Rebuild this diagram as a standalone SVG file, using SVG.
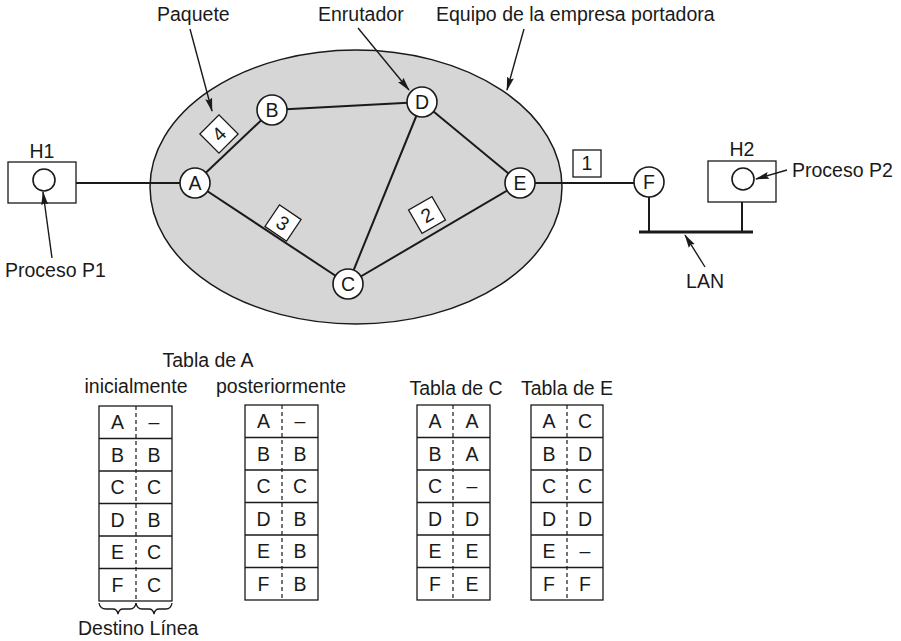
<svg xmlns="http://www.w3.org/2000/svg" width="901" height="641" viewBox="0 0 901 641">
<defs>
<style>
text{font-family:"Liberation Sans",Arial,sans-serif;font-size:19.5px;fill:#1a1a1a}
.c{text-anchor:middle}
.ln{stroke:#1a1a1a;stroke-width:2;fill:none}
.th{stroke:#1a1a1a;stroke-width:1.3;fill:none}
.node{fill:#fff;stroke:#1a1a1a;stroke-width:1.6}
.box{fill:#fff;stroke:#1a1a1a;stroke-width:1.3}
.dash{stroke:#1a1a1a;stroke-width:1.2;stroke-dasharray:4,3}
.arr{stroke:#1a1a1a;stroke-width:1.4;fill:none;marker-end:url(#ah)}
</style>
<marker id="ah" viewBox="0 0 14 8" refX="13" refY="4" markerWidth="14" markerHeight="8" markerUnits="userSpaceOnUse" orient="auto">
<path d="M0,0.5 L14,4 L0,7.5 L2,4 z" fill="#1a1a1a"/>
</marker>
</defs>
<rect width="901" height="641" fill="#fff"/>
<g id="carrier">
<ellipse cx="356" cy="187" rx="206" ry="137" fill="#d6d6d6" stroke="#1a1a1a" stroke-width="1.5"/>
</g>
<g id="H1">
<rect class="box" x="8" y="162" width="68" height="41"/>
<circle class="node" cx="44" cy="180" r="11" stroke-width="1.3"/>
<text class="c" x="42" y="158">H1</text>
</g>
<g id="H2">
<rect class="box" x="708" y="161" width="68" height="41"/>
<circle class="node" cx="743" cy="179" r="11" stroke-width="1.3"/>
<text class="c" x="742" y="156">H2</text>
</g>
<g id="connectors">
<line class="ln" x1="76" y1="183" x2="180" y2="183"/>
<line class="ln" x1="195" y1="183" x2="272" y2="110"/>
<line class="ln" x1="195" y1="183" x2="348" y2="284"/>
<line class="ln" x1="272" y1="110" x2="422" y2="102"/>
<line class="ln" x1="422" y1="102" x2="348" y2="284"/>
<line class="ln" x1="422" y1="102" x2="520" y2="183"/>
<line class="ln" x1="348" y1="284" x2="520" y2="183"/>
<line class="ln" x1="535" y1="183" x2="634" y2="183"/>
<line class="ln" x1="649" y1="197" x2="649" y2="232"/>
<line class="ln" x1="742" y1="202" x2="742" y2="232"/>
<line stroke="#1a1a1a" stroke-width="3" x1="639" y1="232" x2="753" y2="232"/>
<line class="arr" x1="190" y1="29" x2="212" y2="111"/>
<line class="arr" x1="358" y1="28" x2="409" y2="90"/>
<line class="arr" x1="524" y1="29" x2="507" y2="90"/>
<line class="arr" x1="52" y1="258" x2="43" y2="192"/>
<line class="arr" x1="787" y1="170" x2="756" y2="179"/>
<line class="arr" x1="705" y1="267" x2="685" y2="235"/>
</g>
<g id="nA"><circle class="node" cx="195" cy="183" r="15"/><text class="c" x="195" y="190">A</text></g>
<g id="nB"><circle class="node" cx="272" cy="110" r="15"/><text class="c" x="272" y="117">B</text></g>
<g id="nC"><circle class="node" cx="348" cy="284" r="15"/><text class="c" x="348" y="291">C</text></g>
<g id="nD"><circle class="node" cx="422" cy="102" r="15"/><text class="c" x="422" y="109">D</text></g>
<g id="nE"><circle class="node" cx="520" cy="183" r="15"/><text class="c" x="520" y="190">E</text></g>
<g id="nF"><circle class="node" cx="649" cy="182" r="15"/><text class="c" x="649" y="189">F</text></g>
<g id="p4" transform="translate(219,134) rotate(-45)">
<rect class="box" x="-13.5" y="-13.5" width="27" height="27"/><text class="c" x="0" y="7">4</text>
</g>
<g id="p3" transform="translate(283,223) rotate(34)">
<rect class="box" x="-13" y="-13" width="26" height="26"/><text class="c" x="0" y="7">3</text>
</g>
<g id="p2" transform="translate(427,215) rotate(-30)">
<rect class="box" x="-13.5" y="-13.5" width="27" height="27"/><text class="c" x="0" y="7">2</text>
</g>
<g id="p1">
<rect class="box" x="573" y="150" width="28" height="27"/><text class="c" x="587" y="170">1</text>
</g>
<g id="labels">
<text x="157" y="21">Paquete</text>
<text x="318" y="21">Enrutador</text>
<text x="436" y="21">Equipo de la empresa portadora</text>
<text x="5" y="277">Proceso P1</text>
<text x="792" y="177">Proceso P2</text>
<text class="c" x="705" y="288">LAN</text>
</g>
<g id="tableA1">
<text class="c" x="208" y="367">Tabla de A</text>
<text class="c" x="136" y="393">inicialmente</text>
<rect class="box" x="99" y="406" width="73" height="195"/>
<line class="th" x1="99" y1="438.5" x2="172" y2="438.5"/>
<line class="th" x1="99" y1="471" x2="172" y2="471"/>
<line class="th" x1="99" y1="503.5" x2="172" y2="503.5"/>
<line class="th" x1="99" y1="536" x2="172" y2="536"/>
<line class="th" x1="99" y1="568.5" x2="172" y2="568.5"/>
<line class="dash" x1="136" y1="406" x2="136" y2="601"/>
<text class="c" x="117.5" y="429">A</text><text class="c" x="154" y="429">–</text>
<text class="c" x="117.5" y="461.5">B</text><text class="c" x="154" y="461.5">B</text>
<text class="c" x="117.5" y="494">C</text><text class="c" x="154" y="494">C</text>
<text class="c" x="117.5" y="526.5">D</text><text class="c" x="154" y="526.5">B</text>
<text class="c" x="117.5" y="559">E</text><text class="c" x="154" y="559">C</text>
<text class="c" x="117.5" y="591.5">F</text><text class="c" x="154" y="591.5">C</text>
<path class="th" d="M99,603 Q100,609 106,609 L113,609 Q117,609 118,614 Q119,609 123,609 L130,609 Q135,609 136,603"/>
<path class="th" d="M136,603 Q137,609 142,609 L149,609 Q153,609 154,614 Q155,609 159,609 L166,609 Q171,609 172,603"/>
<text x="78" y="635">Destino Línea</text>
</g>
<g id="tableA2">
<text class="c" x="281" y="393">posteriormente</text>
<rect class="box" x="245" y="405" width="73" height="195"/>
<line class="th" x1="245" y1="437.5" x2="318" y2="437.5"/>
<line class="th" x1="245" y1="470" x2="318" y2="470"/>
<line class="th" x1="245" y1="502.5" x2="318" y2="502.5"/>
<line class="th" x1="245" y1="535" x2="318" y2="535"/>
<line class="th" x1="245" y1="567.5" x2="318" y2="567.5"/>
<line class="dash" x1="282" y1="405" x2="282" y2="600"/>
<text class="c" x="263.5" y="428">A</text><text class="c" x="300" y="428">–</text>
<text class="c" x="263.5" y="460.5">B</text><text class="c" x="300" y="460.5">B</text>
<text class="c" x="263.5" y="493">C</text><text class="c" x="300" y="493">C</text>
<text class="c" x="263.5" y="525.5">D</text><text class="c" x="300" y="525.5">B</text>
<text class="c" x="263.5" y="558">E</text><text class="c" x="300" y="558">B</text>
<text class="c" x="263.5" y="590.5">F</text><text class="c" x="300" y="590.5">B</text>
</g>
<g id="tableC">
<text class="c" x="456" y="395">Tabla de C</text>
<rect class="box" x="417" y="405" width="73" height="195"/>
<line class="th" x1="417" y1="437.5" x2="490" y2="437.5"/>
<line class="th" x1="417" y1="470" x2="490" y2="470"/>
<line class="th" x1="417" y1="502.5" x2="490" y2="502.5"/>
<line class="th" x1="417" y1="535" x2="490" y2="535"/>
<line class="th" x1="417" y1="567.5" x2="490" y2="567.5"/>
<line class="dash" x1="453" y1="405" x2="453" y2="600"/>
<text class="c" x="435" y="428">A</text><text class="c" x="472" y="428">A</text>
<text class="c" x="435" y="460.5">B</text><text class="c" x="472" y="460.5">A</text>
<text class="c" x="435" y="493">C</text><text class="c" x="472" y="493">–</text>
<text class="c" x="435" y="525.5">D</text><text class="c" x="472" y="525.5">D</text>
<text class="c" x="435" y="558">E</text><text class="c" x="472" y="558">E</text>
<text class="c" x="435" y="590.5">F</text><text class="c" x="472" y="590.5">E</text>
</g>
<g id="tableE">
<text class="c" x="567" y="395">Tabla de E</text>
<rect class="box" x="531" y="405" width="72" height="195"/>
<line class="th" x1="531" y1="437.5" x2="603" y2="437.5"/>
<line class="th" x1="531" y1="470" x2="603" y2="470"/>
<line class="th" x1="531" y1="502.5" x2="603" y2="502.5"/>
<line class="th" x1="531" y1="535" x2="603" y2="535"/>
<line class="th" x1="531" y1="567.5" x2="603" y2="567.5"/>
<line class="dash" x1="567" y1="405" x2="567" y2="600"/>
<text class="c" x="549" y="428">A</text><text class="c" x="585" y="428">C</text>
<text class="c" x="549" y="460.5">B</text><text class="c" x="585" y="460.5">D</text>
<text class="c" x="549" y="493">C</text><text class="c" x="585" y="493">C</text>
<text class="c" x="549" y="525.5">D</text><text class="c" x="585" y="525.5">D</text>
<text class="c" x="549" y="558">E</text><text class="c" x="585" y="558">–</text>
<text class="c" x="549" y="590.5">F</text><text class="c" x="585" y="590.5">F</text>
</g>
</svg>
